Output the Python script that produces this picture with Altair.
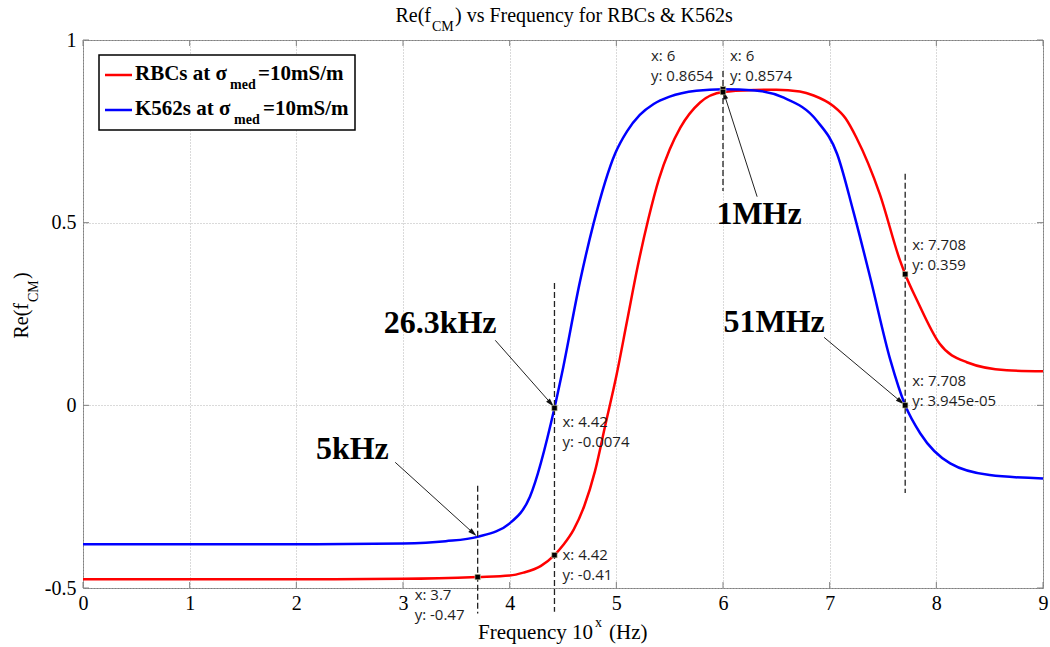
import math
import altair as alt
import pandas as pd

# ---- curve samples: log10(frequency) and Re(f_CM) ----
freq_rbc = [0, 1, 2, 3, 3.7, 4.0, 4.13, 4.29, 4.42, 4.5, 4.6, 4.7, 4.8, 4.9, 5.0, 5.1, 5.2,
            5.3, 5.4, 5.5, 5.6, 5.785, 6.0, 6.3, 6.5, 6.72, 6.85, 7.03, 7.15, 7.25, 7.47,
            7.66, 7.708, 7.82, 8.03, 8.285, 8.66, 9.0]
re_rbc = [-0.476, -0.476, -0.476, -0.475, -0.47, -0.466, -0.458, -0.44, -0.41, -0.383, -0.34,
          -0.275, -0.18, -0.05, 0.08, 0.23, 0.38, 0.51, 0.62, 0.70, 0.76, 0.829, 0.8574, 0.863,
          0.864, 0.859, 0.848, 0.82, 0.785, 0.733, 0.578, 0.396, 0.359, 0.287, 0.169, 0.118,
          0.096, 0.093]

freq_k562 = [0, 1, 2, 3, 3.4, 3.7, 4.0, 4.19, 4.42, 4.49, 4.66, 4.785, 4.99, 5.1, 5.22, 5.35,
             5.5, 5.75, 6.0, 6.3, 6.57, 6.88, 7.07, 7.22, 7.38, 7.57, 7.708, 7.85, 8.13, 8.5,
             9.0]
re_k562 = [-0.38, -0.38, -0.38, -0.378, -0.372, -0.36, -0.323, -0.25, -0.0074, 0.087, 0.34,
           0.496, 0.69, 0.75, 0.795, 0.825, 0.845, 0.861, 0.8654, 0.862, 0.842, 0.779, 0.688,
           0.533, 0.35, 0.123, 0.00004, -0.077, -0.159, -0.191, -0.2]

# ---- data tips ----
tip_x = [6, 6, 4.42, 4.42, 3.7, 7.708, 7.708]
tip_y = [0.8654, 0.8574, -0.0074, -0.41, -0.47, 0.359, 0.00003945]
tip_line1 = ["x: 6", "x: 6", "x: 4.42", "x: 4.42", "x: 3.7", "x: 7.708", "x: 7.708"]
tip_line2 = ["y: 0.8654", "y: 0.8574", "y: -0.0074", "y: -0.41", "y: -0.47", "y: 0.359",
             "y: 3.945e-05"]
tip_dx = [-72, 7, 8, 8, -63, 7, 7]       # pixel offset of the label's left edge
tip_dy = [-33, -36, 14, 0, 18, -29, -24]  # pixel offset of the first label line

# ---- dashed markers at the frequencies of interest ----
vline_x = [3.7, 4.42, 6.0, 7.708]
vline_y1 = [-0.22, 0.335, 0.915, 0.634]
vline_y2 = [-0.57, -0.565, 0.587, -0.24]

# ---- callouts ----
call_text = ["5kHz", "26.3kHz", "1MHz", "51MHz"]
call_tx = [2.525, 3.348, 6.338, 6.479]
call_ty = [-0.12, 0.224, 0.525, 0.227]
arrow_x1 = [2.927, 3.865, 6.32, 6.948]
arrow_y1 = [-0.156, 0.178, 0.571, 0.186]
arrow_x2 = [3.69, 4.415, 6.0, 7.70]
arrow_y2 = [-0.358, -0.004, 0.862, 0.002]

x_ticks = list(range(10))
y_ticks = [-0.5, 0, 0.5, 1]

W, H = 960, 548
XDOM, YDOM = [0, 9], [-0.5, 1]
ppx = W / (XDOM[1] - XDOM[0])
ppy = H / (YDOM[1] - YDOM[0])

SERIF = "Liberation Serif"
TIPFONT = "Open Sans"

xs = alt.Scale(domain=XDOM, nice=False, zero=False)
ys = alt.Scale(domain=YDOM, nice=False, zero=False)

rbc = pd.DataFrame({"freq": freq_rbc, "re": re_rbc})
k562 = pd.DataFrame({"freq": freq_k562, "re": re_k562})

x_axis = alt.Axis(values=x_ticks, format="d", title=None, labelFont=SERIF, labelFontSize=20,
                  labelColor="black", labelPadding=5, domain=False, ticks=False, grid=True,
                  gridDash=[1, 2], gridColor="#b4b4b4", gridWidth=1, labelFlush=False)
y_axis = alt.Axis(values=y_ticks, title=None, labelFont=SERIF, labelFontSize=20,
                  labelColor="black", labelPadding=7, domain=False, ticks=False, grid=True,
                  gridDash=[1, 2], gridColor="#b4b4b4", gridWidth=1, labelFlush=False,
                  labelExpr="replace(format(datum.value, '~g'), '\u2212', '-')")

red_line = alt.Chart(rbc).mark_line(color="#ff0000", strokeWidth=2.5, interpolate="monotone").encode(
    x=alt.X("freq:Q", scale=xs, axis=x_axis),
    y=alt.Y("re:Q", scale=ys, axis=y_axis),
)
blue_line = alt.Chart(k562).mark_line(color="#0000ff", strokeWidth=2.5, interpolate="monotone").encode(
    x=alt.X("freq:Q", scale=xs),
    y=alt.Y("re:Q", scale=ys),
)

# inward tick marks on all four sides
xt = pd.DataFrame({"v": x_ticks})
yt = pd.DataFrame({"v": y_ticks})
tick_col = "#808080"
ticks = [
    alt.Chart(xt).mark_rule(color=tick_col).encode(x=alt.X("v:Q", scale=xs), y=alt.value(H), y2=alt.value(H - 6)),
    alt.Chart(xt).mark_rule(color=tick_col).encode(x=alt.X("v:Q", scale=xs), y=alt.value(0), y2=alt.value(6)),
    alt.Chart(yt).mark_rule(color=tick_col).encode(y=alt.Y("v:Q", scale=ys), x=alt.value(0), x2=alt.value(6)),
    alt.Chart(yt).mark_rule(color=tick_col).encode(y=alt.Y("v:Q", scale=ys), x=alt.value(W), x2=alt.value(W - 6)),
]

vl = pd.DataFrame({"x": vline_x, "y1": vline_y1, "y2": vline_y2})
vlines = alt.Chart(vl).mark_rule(color="#222222", strokeWidth=1.3, strokeDash=[6, 3]).encode(
    x=alt.X("x:Q", scale=xs), y=alt.Y("y1:Q", scale=ys), y2="y2:Q")

# arrows: shaft plus a rotated head placed just behind the tip
ar = pd.DataFrame({"x1": arrow_x1, "y1": arrow_y1, "x2": arrow_x2, "y2": arrow_y2})
dxp = (ar.x2 - ar.x1) * ppx
dyp = -(ar.y2 - ar.y1) * ppy
length = (dxp ** 2 + dyp ** 2) ** 0.5
ar["angle"] = [math.degrees(math.atan2(a, -b)) % 360 for a, b in zip(dxp, dyp)]
ar["hx"] = ar.x2 - (dxp / length * 4.5) / ppx
ar["hy"] = ar.y2 + (dyp / length * 4.5) / ppy
shafts = alt.Chart(ar).mark_rule(color="#222222", strokeWidth=1).encode(
    x=alt.X("x1:Q", scale=xs), y=alt.Y("y1:Q", scale=ys), x2="hx:Q", y2="hy:Q")
heads = alt.Chart(ar).mark_point(shape="M0,-1L-0.55,1L0.55,1Z", filled=True, color="#111111",
                                 opacity=1, size=80).encode(
    x=alt.X("hx:Q", scale=xs), y=alt.Y("hy:Q", scale=ys), angle=alt.Angle("angle:Q", scale=None))

tips = pd.DataFrame({"x": tip_x, "y": tip_y, "l1": tip_line1, "l2": tip_line2,
                     "dx": tip_dx, "dy": tip_dy})
tips["tx"] = tips.x + tips.dx / ppx
tips["ty"] = tips.y - tips.dy / ppy
markers = alt.Chart(tips).mark_square(color="black", size=30, opacity=1, stroke="#d8d8b0",
                                      strokeWidth=0.6).encode(
    x=alt.X("x:Q", scale=xs), y=alt.Y("y:Q", scale=ys))
tip1 = alt.Chart(tips).mark_text(font=TIPFONT, fontSize=15, color="#1e1e1e", align="left",
                                 baseline="middle").encode(
    x=alt.X("tx:Q", scale=xs), y=alt.Y("ty:Q", scale=ys), text="l1:N")
tip2 = alt.Chart(tips).mark_text(font=TIPFONT, fontSize=15, color="#1e1e1e", align="left",
                                 baseline="middle", dy=20).encode(
    x=alt.X("tx:Q", scale=xs), y=alt.Y("ty:Q", scale=ys), text="l2:N")

calls = pd.DataFrame({"t": call_text, "x": call_tx, "y": call_ty})
callouts = alt.Chart(calls).mark_text(font=SERIF, fontSize=32, fontWeight="bold", color="black",
                                      align="center", baseline="middle").encode(
    x=alt.X("x:Q", scale=xs), y=alt.Y("y:Q", scale=ys), text="t:N")


def px_text(text, x, y, size, weight="normal", align="left", angle=0, baseline="alphabetic"):
    return alt.Chart(pd.DataFrame({"s": [text]})).mark_text(
        font=SERIF, fontSize=size, fontWeight=weight, color="black", align=align,
        baseline=baseline, angle=angle).encode(x=alt.value(x), y=alt.value(y), text="s:N")


# title with subscript
title = [
    px_text("Re(f", 348, -18, 20, align="right"),
    px_text("CM", 349, -9, 14),
    px_text(") vs Frequency for RBCs & K562s", 372, -18, 20),
]
# x axis title with superscript
xtitle = [
    px_text("Frequency 10", 510, 599, 21, align="right"),
    px_text("x", 512, 587, 14),
    px_text("(Hz)", 526, 599, 21),
]
# rotated y axis title with subscript
ytitle = [
    px_text("Re(f", -55, 263, 20, align="right", angle=270),
    px_text("CM", -45, 262, 14, angle=270),
    px_text(")", -55, 239, 20, angle=270),
]

# legend box
leg_box = alt.Chart(pd.DataFrame({"a": [0]})).mark_rect(fill="white", stroke="black", strokeWidth=1.5).encode(
    x=alt.value(16), x2=alt.value(272), y=alt.value(15), y2=alt.value(90))
leg_lines = [
    alt.Chart(pd.DataFrame({"a": [0]})).mark_rule(color="#ff0000", strokeWidth=2.5).encode(
        x=alt.value(22), x2=alt.value(49), y=alt.value(35)),
    alt.Chart(pd.DataFrame({"a": [0]})).mark_rule(color="#0000ff", strokeWidth=2.5).encode(
        x=alt.value(22), x2=alt.value(49), y=alt.value(70)),
]
leg_text = [
    px_text("RBCs at \u03c3", 52, 40, 21, weight="bold"),
    px_text("med", 147, 49, 14, weight="bold"),
    px_text("=10mS/m", 175, 40, 21, weight="bold"),
    px_text("K562s at \u03c3", 52, 75, 21, weight="bold"),
    px_text("med", 151, 84, 14, weight="bold"),
    px_text("=10mS/m", 180, 75, 21, weight="bold"),
]

chart = alt.layer(
    red_line, blue_line, *ticks, vlines, shafts, heads, markers, tip1, tip2, callouts,
    *title, *xtitle, *ytitle, leg_box, *leg_lines, *leg_text,
).properties(
    width=W, height=H,
    autosize=alt.AutoSizeParams(type="none"),
    padding={"left": 83, "top": 40, "right": 7, "bottom": 59},
    background="white",
).configure_view(stroke="#808080", strokeWidth=1)

chart.save("out.html", embed_options={"renderer": "svg", "actions": False})
